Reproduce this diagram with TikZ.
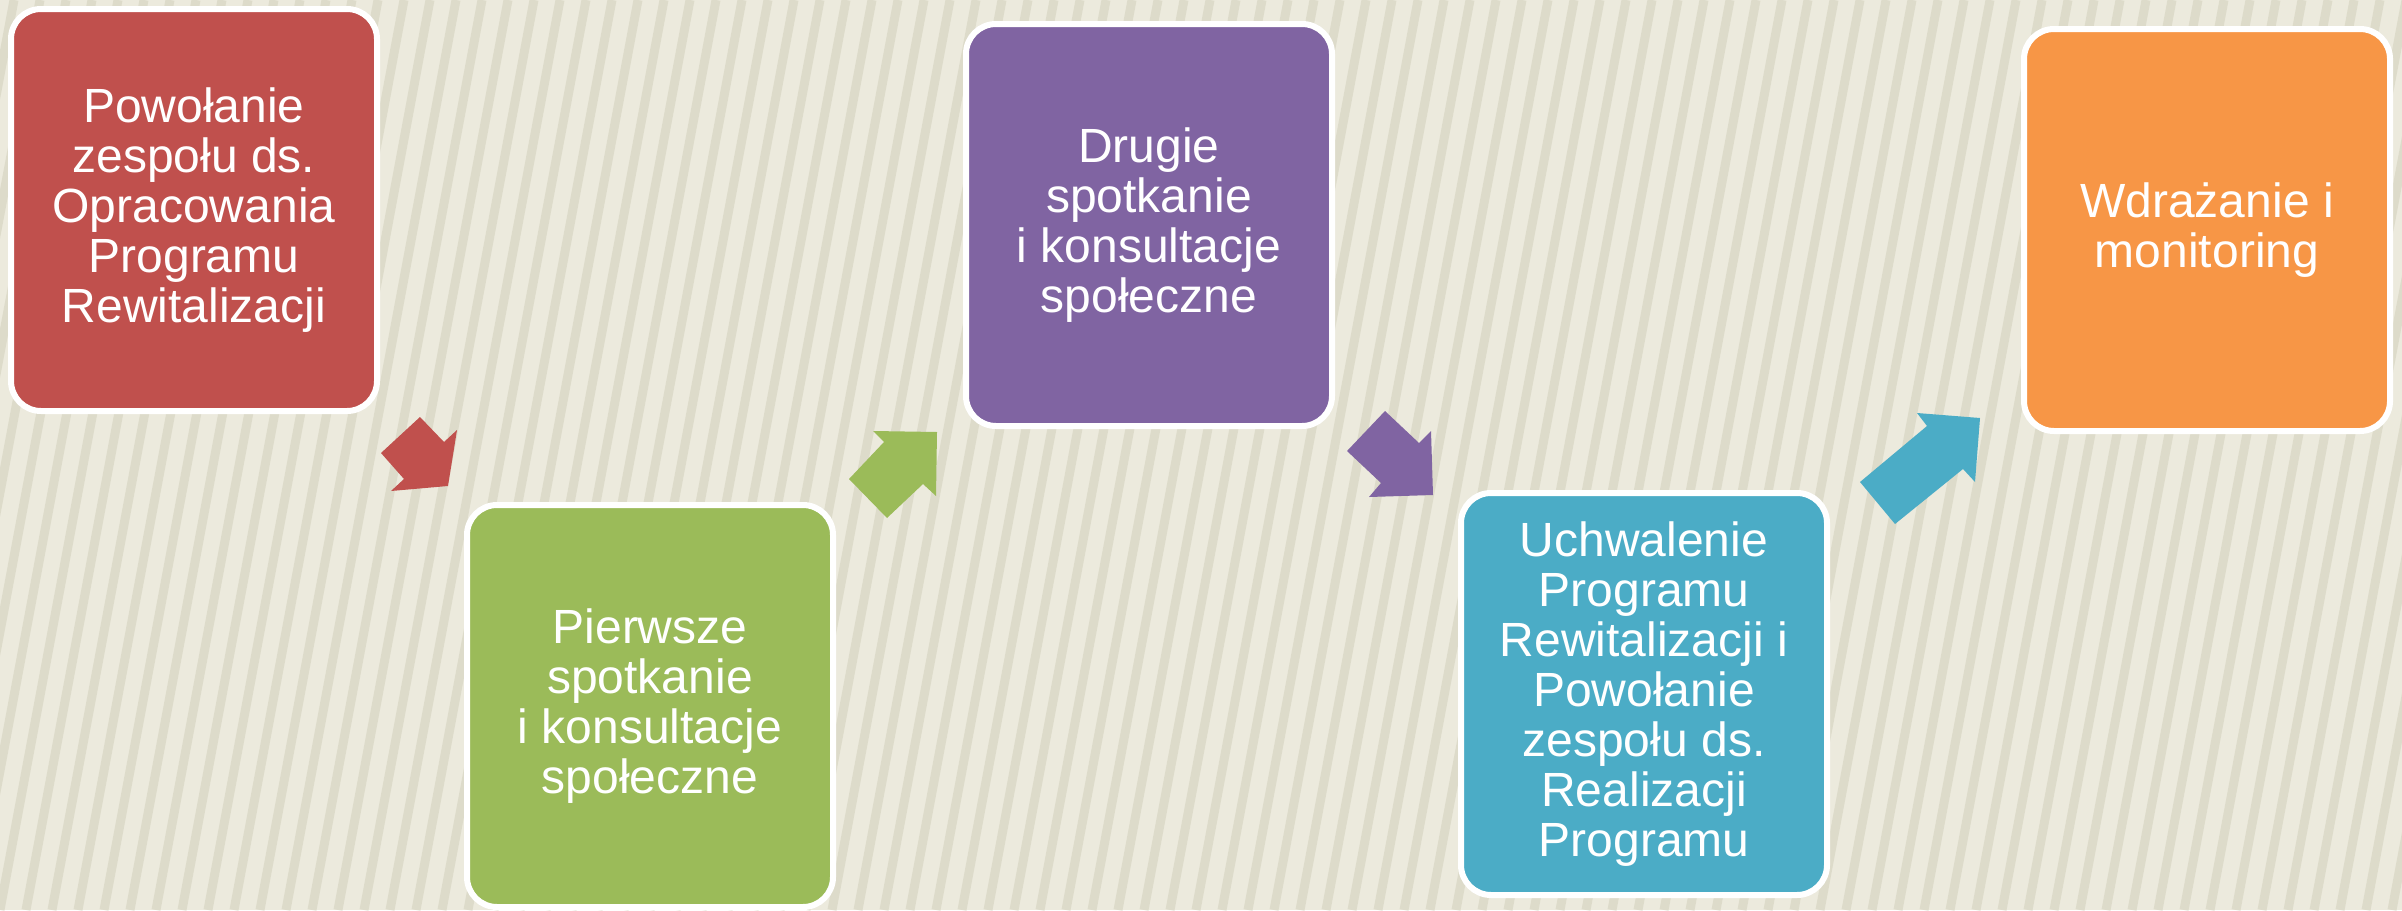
\documentclass[tikz,border=0pt]{standalone}
\usepackage{fontspec}
\setmainfont{Liberation Sans}
\usepackage{xcolor}

\definecolor{czerwony}{HTML}{C0504D}
\definecolor{zielony}{HTML}{9BBB59}
\definecolor{fioletowy}{HTML}{8064A2}
\definecolor{niebieski}{HTML}{4BACC6}
\definecolor{pomaranczowy}{HTML}{F79646}
\definecolor{tlo}{HTML}{ECEADD}
\definecolor{prazek}{HTML}{D2D0BC}

\begin{document}
\begin{tikzpicture}[x=0.5pt, y=-0.5pt,
    etap/.style={rectangle,rounded corners=15pt,draw=white,line width=3pt,text=white,minimum width=183pt,minimum height=201pt,inner sep=0pt,align=center,font=\fontsize{24}{25}\selectfont},
    prazki/.style={prazek,line width=4.5pt,opacity=0.55}
  ]
    \useasboundingbox (0,0) rectangle (2402,910);
    % tlo
    \fill[tlo] (0,0) rectangle (2402,910);
    \begin{scope}
        \clip (0,0) rectangle (2402,910);
        \foreach \i in {-10,...,95}
            \draw[prazki] (\i*26,910) -- (\i*26+170,0);
    \end{scope}

    % etapy
    \node[etap,fill=czerwony] (powolanie) at (194,210) {Powołanie\\zespołu ds.\\Opracowania\\Programu\\Rewitalizacji};
    \node[etap,fill=zielony] (pierwsze) at (650,706) {Pierwsze\\spotkanie\\ i konsultacje\\społeczne};
    \node[etap,fill=fioletowy] (drugie) at (1149,225) {Drugie\\spotkanie\\ i konsultacje\\społeczne};
    \node[etap,fill=niebieski] (uchwalenie) at (1644,694) {Uchwalenie\\Programu\\Rewitalizacji i\\Powołanie\\zespołu ds.\\Realizacji\\Programu};
    \node[etap,fill=pomaranczowy] (wdrazanie) at (2207,230) {Wdrażanie i\\monitoring};

    % strzalki
    \fill[czerwony] (420,417) -- (444,442) -- (457,430) -- (448,486) -- (391,491) -- (404,479) -- (381,453) -- cycle;
    \fill[zielony] (873,431) -- (937,432) -- (936,496) -- (923,484) -- (887,518) -- (849,479) -- (884,442) -- cycle;
    \fill[fioletowy] (1385,411) -- (1419,443) -- (1431,431) -- (1433,495) -- (1369,497) -- (1381,483) -- (1347,451) -- cycle;
    \fill[niebieski] (1917,413) -- (1980,418) -- (1975,482) -- (1963,469) -- (1895,524) -- (1860,482) -- (1927,426) -- cycle;
\end{tikzpicture}
\end{document}
